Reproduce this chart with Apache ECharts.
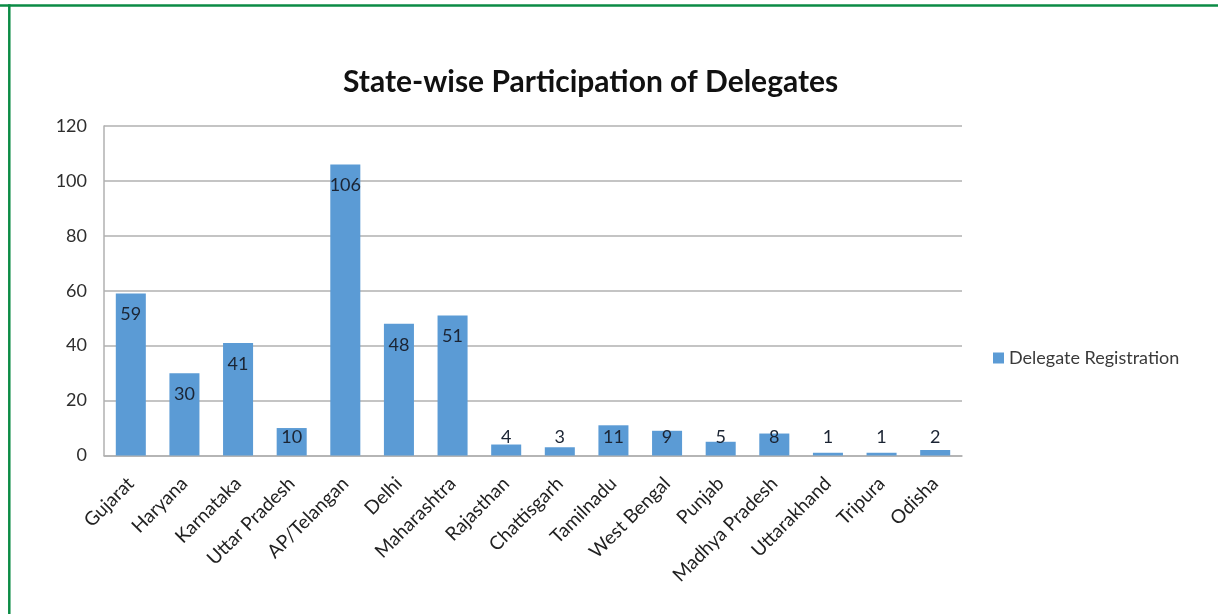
<!DOCTYPE html>
<html>
<head>
<meta charset="utf-8">
<script src="https://cdn.jsdelivr.net/npm/echarts@6/dist/echarts.min.js"></script>
<style>
  html, body { margin: 0; padding: 0; background: #ffffff; }
  #chart { width: 1218px; height: 614px; }
</style>
</head>
<body>
<div id="chart"></div>
<script>
// Delegates registered per state
const states = [
  'Gujarat', 'Haryana', 'Karnataka', 'Uttar Pradesh', 'AP/Telangan', 'Delhi',
  'Maharashtra', 'Rajasthan', 'Chattisgarh', 'Tamilnadu', 'West Bengal', 'Punjab',
  'Madhya Pradesh', 'Uttarakhand', 'Tripura', 'Odisha'
];
const delegates = [59, 30, 41, 10, 106, 48, 51, 4, 3, 11, 9, 5, 8, 1, 1, 2];
const seriesName = 'Delegate Registration';
const titleText = 'State-wise Participation of Delegates';
const yMin = 0;
const yMax = 120;
const yStep = 20;

const FONT = 'Lato, "Open Sans", sans-serif';
const BAR_BLUE = '#5b9bd5';

// Short bars get their value label sitting just above the baseline,
// taller bars carry it inside the top end.
const shortLimit = 15;
const barData = delegates.map(v => ({
  value: v,
  label: v < shortLimit
    ? { position: 'insideBottom', distance: 9 }
    : { position: 'insideTop', distance: 12 }
}));

const chart = echarts.init(document.getElementById('chart'), null, { renderer: 'canvas' });

chart.setOption({
  backgroundColor: '#ffffff',
  animation: false,
  title: {
    text: titleText,
    left: 343,
    top: 67,
    padding: 0,
    textStyle: { fontFamily: FONT, fontSize: 30, fontWeight: 'bold', color: '#111111' }
  },
  legend: {
    data: [seriesName],
    left: 988,
    top: 344,
    icon: 'rect',
    itemWidth: 11,
    itemHeight: 11,
    itemGap: 6,
    textStyle: { fontFamily: FONT, fontSize: 18, color: '#3a3a3a' }
  },
  grid: { left: 104, right: 256, top: 126, bottom: 158.5, containLabel: false },
  xAxis: {
    type: 'category',
    data: states,
    axisLine: { show: true, lineStyle: { color: '#b0b0b0', width: 1.5 } },
    axisTick: { show: false },
    axisLabel: {
      rotate: 45,
      margin: 25,
      interval: 0,
      fontFamily: FONT,
      fontSize: 19,
      color: '#222222'
    }
  },
  yAxis: {
    type: 'value',
    min: yMin,
    max: yMax,
    interval: yStep,
    axisLine: { show: true, lineStyle: { color: '#b0b0b0', width: 1.5 } },
    axisTick: { show: false },
    axisLabel: { margin: 17, fontFamily: FONT, fontSize: 18, color: '#2e2e2e' },
    splitLine: { show: true, lineStyle: { color: '#b0b0b0', width: 1.5 } }
  },
  series: [{
    name: seriesName,
    type: 'bar',
    data: barData,
    barCategoryGap: '44%',
    itemStyle: { color: BAR_BLUE },
    label: {
      show: true,
      fontFamily: FONT,
      fontSize: 18,
      color: '#1b2433'
    }
  }],
  graphic: [
    // frame lines along the top and left edges of the page
    { type: 'line', shape: { x1: 0, y1: 5.5, x2: 1218, y2: 5.5 }, style: { stroke: '#0b8b45', lineWidth: 2.5 } },
    { type: 'line', shape: { x1: 9.3, y1: 4.3, x2: 9.3, y2: 614 }, style: { stroke: '#0b8b45', lineWidth: 2.5 } }
  ]
});
</script>
</body>
</html>
